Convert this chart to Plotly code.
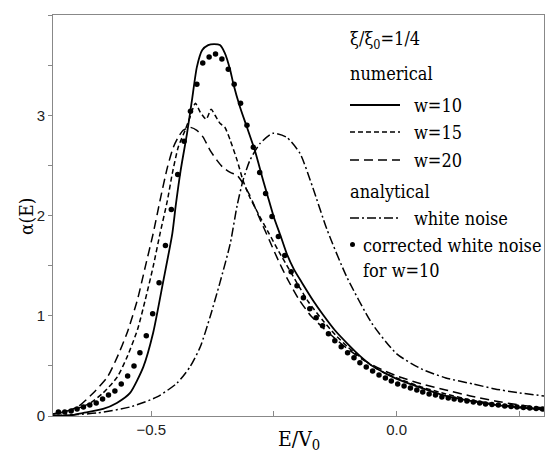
import plotly.graph_objects as go

# ---------------- data ----------------
w10_E = [-0.70, -0.66, -0.638, -0.598, -0.57, -0.543, -0.516, -0.496, -0.476, -0.457, -0.45, -0.44,
         -0.427, -0.417, -0.407, -0.396, -0.384, -0.372, -0.36, -0.35, -0.339, -0.333, -0.319, -0.305,
         -0.289, -0.272, -0.262, -0.25, -0.236, -0.224, -0.209, -0.193, -0.17, -0.15, -0.125, -0.1,
         -0.075, -0.05, -0.025, 0.0, 0.05, 0.1, 0.15, 0.2, 0.25, 0.3]
w10_a = [0.0, 0.01, 0.03, 0.07, 0.13, 0.23, 0.49, 0.83, 1.33, 1.82, 2.1, 2.45,
         2.82, 3.15, 3.48, 3.65, 3.70, 3.71, 3.70, 3.62, 3.45, 3.32, 3.08, 2.88,
         2.65, 2.35, 2.18, 1.98, 1.79, 1.62, 1.46, 1.33, 1.15, 1.01, 0.85, 0.72,
         0.60, 0.50, 0.43, 0.37, 0.28, 0.20, 0.15, 0.11, 0.085, 0.065]

w15_E = [-0.70, -0.691, -0.659, -0.624, -0.598, -0.569, -0.549, -0.528, -0.512, -0.496, -0.482,
         -0.467, -0.457, -0.445, -0.431, -0.421, -0.41, -0.40, -0.388, -0.378, -0.37, -0.36, -0.35,
         -0.339, -0.325, -0.313, -0.299, -0.28, -0.26, -0.24, -0.22, -0.207, -0.18, -0.15, -0.125,
         -0.1, -0.075, -0.05, -0.025, 0.0, 0.05, 0.1, 0.15, 0.2, 0.25, 0.3]
w15_a = [0.02, 0.03, 0.06, 0.13, 0.23, 0.39, 0.59, 0.86, 1.16, 1.49, 1.82,
         2.15, 2.42, 2.68, 2.85, 2.98, 3.12, 3.03, 2.96, 3.06, 3.0, 2.92, 2.88,
         2.75, 2.55, 2.35, 2.18, 2.0, 1.82, 1.64, 1.47, 1.36, 1.14, 0.95, 0.81,
         0.69, 0.59, 0.50, 0.43, 0.38, 0.29, 0.22, 0.16, 0.12, 0.09, 0.07]

w20_E = [-0.70, -0.685, -0.65, -0.618, -0.589, -0.569, -0.549, -0.528, -0.512, -0.496, -0.482,
         -0.467, -0.455, -0.445, -0.435, -0.421, -0.407, -0.394, -0.38, -0.366, -0.354, -0.339,
         -0.325, -0.313, -0.299, -0.28, -0.26, -0.24, -0.224, -0.2, -0.175, -0.15, -0.125, -0.1,
         -0.075, -0.05, -0.025, 0.0, 0.05, 0.1, 0.15, 0.2, 0.25, 0.3]
w20_a = [0.02, 0.03, 0.09, 0.23, 0.39, 0.59, 0.83, 1.16, 1.49, 1.82, 2.15,
         2.48, 2.68, 2.78, 2.85, 2.88, 2.85, 2.78, 2.65, 2.55, 2.48, 2.43,
         2.40, 2.32, 2.2, 1.98, 1.76, 1.54, 1.38, 1.17, 1.0, 0.88, 0.77, 0.67,
         0.58, 0.51, 0.45, 0.40, 0.32, 0.26, 0.20, 0.15, 0.11, 0.08]

white_E = [-0.70, -0.65, -0.61, -0.543, -0.488, -0.447, -0.421, -0.40, -0.38, -0.36, -0.339,
           -0.325, -0.313, -0.299, -0.278, -0.252, -0.224, -0.197, -0.171, -0.142, -0.102,
           -0.05, 0.0, 0.05, 0.1, 0.155, 0.2, 0.25, 0.3]
white_a = [0.005, 0.015, 0.03, 0.09, 0.19, 0.33, 0.49, 0.69, 0.99, 1.33, 1.72,
           2.1, 2.35, 2.55, 2.72, 2.82, 2.78, 2.62, 2.28, 1.86, 1.39,
           0.92, 0.62, 0.47, 0.38, 0.32, 0.27, 0.23, 0.20]

corr_E = [-0.689, -0.676, -0.663, -0.651, -0.638, -0.625, -0.612, -0.599, -0.587, -0.574,
          -0.561, -0.548, -0.535, -0.523, -0.510, -0.497, -0.484, -0.471, -0.459, -0.446,
          -0.433, -0.420, -0.407, -0.395, -0.382, -0.369, -0.356, -0.343, -0.331, -0.318,
          -0.305, -0.292, -0.279, -0.267, -0.254, -0.241, -0.228, -0.215, -0.203, -0.190,
          -0.177, -0.164, -0.151, -0.139, -0.126, -0.113, -0.100, -0.087, -0.075, -0.062,
          -0.049, -0.036, -0.023, -0.011, 0.002, 0.015, 0.028, 0.041, 0.053, 0.066,
          0.079, 0.092, 0.105, 0.117, 0.130, 0.143, 0.156, 0.169, 0.181, 0.194,
          0.207, 0.220, 0.233, 0.245, 0.258, 0.271, 0.284, 0.297]
corr_a = [0.04, 0.04, 0.05, 0.07, 0.09, 0.11, 0.13, 0.17, 0.21, 0.25,
          0.32, 0.40, 0.50, 0.63, 0.80, 1.02, 1.33, 1.70, 2.06, 2.41,
          2.74, 3.04, 3.31, 3.52, 3.58, 3.61, 3.56, 3.46, 3.31, 3.12,
          2.90, 2.68, 2.43, 2.22, 1.99, 1.79, 1.60, 1.44, 1.30, 1.18,
          1.07, 0.98, 0.90, 0.82, 0.75, 0.69, 0.63, 0.58, 0.53, 0.49,
          0.45, 0.41, 0.38, 0.35, 0.32, 0.30, 0.28, 0.26, 0.24, 0.22,
          0.21, 0.19, 0.18, 0.17, 0.16, 0.15, 0.14, 0.13, 0.12, 0.115,
          0.11, 0.10, 0.095, 0.09, 0.085, 0.08, 0.075, 0.07]

x_tickvals = [-0.5, -0.25, 0.0, 0.25]
x_ticktext = ["\u22120.5", "", "0.0", ""]
y_tickvals = [0, 0.5, 1, 1.5, 2, 2.5, 3, 3.5, 4]
y_ticktext = ["0", "", "1", "", "2", "", "3", "", "4"]

# ---------------- styles ----------------
DASH_W15 = "5px,3px"
DASH_W20 = "9px,5px"
DASH_WHITE = "9px,3px,2px,3px"
SERIF = "DejaVu Serif Condensed, DejaVu Serif"
SANS = "Liberation Sans"

# page offset: the html body has an 8px margin, so the figure starts at (8, 8)
OFF = 8
PL, PR, PT, PB = 53, 544, 15, 416   # plot area in window pixels
W, H = 554, 457

fig = go.Figure()
fig.add_trace(go.Scatter(x=w10_E, y=w10_a, mode="lines", line=dict(color="black", width=1.8, shape="spline", smoothing=0.6)))
fig.add_trace(go.Scatter(x=w15_E, y=w15_a, mode="lines", line=dict(color="black", width=1.5, dash=DASH_W15, shape="spline", smoothing=0.6)))
fig.add_trace(go.Scatter(x=w20_E, y=w20_a, mode="lines", line=dict(color="black", width=1.5, dash=DASH_W20, shape="spline", smoothing=0.6)))
fig.add_trace(go.Scatter(x=white_E, y=white_a, mode="lines", line=dict(color="black", width=1.5, dash=DASH_WHITE, shape="spline", smoothing=0.6)))
fig.add_trace(go.Scatter(x=corr_E, y=corr_a, mode="markers", marker=dict(color="black", size=5.5)))

# ---------------- legend drawn as annotations / shapes ----------------
L0, L1 = 350, 400      # window pixel x of legend line samples
TX = 412               # window pixel x of legend texts

def px2paper_x(px):
    return (px - PL) / float(PR - PL)

def px2paper_y(py):
    return (PB - py) / float(PB - PT)

shapes = []
for py, dash, wd in [(105, "solid", 1.8), (132, DASH_W15, 1.5), (160, DASH_W20, 1.5), (218, DASH_WHITE, 1.5)]:
    shapes.append(dict(type="line", xref="paper", yref="paper",
                       x0=px2paper_x(L0), x1=px2paper_x(L1), y0=px2paper_y(py), y1=px2paper_y(py),
                       line=dict(color="black", width=wd, dash=dash)))
shapes.append(dict(type="circle", xref="paper", yref="paper",
                   x0=px2paper_x(350), x1=px2paper_x(355), y0=px2paper_y(247), y1=px2paper_y(242),
                   fillcolor="black", line=dict(color="black", width=0)))

annotations = []
def txt(px, py, s, size=18):
    annotations.append(dict(xref="paper", yref="paper", x=px2paper_x(px), y=px2paper_y(py),
                            text=s, showarrow=False, xanchor="left", yanchor="middle",
                            font=dict(family=SERIF, size=size, color="black")))

txt(348, 40, "\u03be/\u03be<sub>0</sub>=1/4")
txt(348, 73, "numerical")
txt(TX, 105, "w=10")
txt(TX, 132, "w=15")
txt(TX, 160, "w=20")
txt(348, 191, "analytical")
txt(TX, 218, "white noise")
txt(361, 245, "corrected white noise")
txt(361, 270, "for w=10")

# axis titles as annotations (exact placement)
annotations.append(dict(xref="paper", yref="paper", x=px2paper_x(299), y=px2paper_y(440),
                        text="E/V<sub>0</sub>", showarrow=False, xanchor="center", yanchor="middle",
                        font=dict(family=SERIF, size=21, color="black")))
annotations.append(dict(xref="paper", yref="paper", x=px2paper_x(26), y=px2paper_y(217),
                        text="\u03b1(E)", showarrow=False, xanchor="center", yanchor="middle", textangle=-90,
                        font=dict(family=SERIF, size=19, color="black")))

fig.update_layout(
    width=W, height=H,
    margin=dict(l=PL - OFF, r=W - (PR - OFF), t=PT - OFF, b=H - (PB - OFF)),
    paper_bgcolor="white", plot_bgcolor="white",
    showlegend=False,
    shapes=shapes, annotations=annotations,
    xaxis=dict(range=[-0.7, 0.3], tickvals=x_tickvals, ticktext=x_ticktext, automargin=False,
               ticks="inside", ticklen=5, tickcolor="#888", showline=True, linecolor="#888",
               linewidth=1, mirror=True, showgrid=False, zeroline=False,
               tickfont=dict(family=SANS, size=15, color="#222")),
    yaxis=dict(range=[0, 4], tickvals=y_tickvals, ticktext=y_ticktext, automargin=False,
               ticks="outside", ticklen=4, tickcolor="#888", showline=True, linecolor="#888",
               linewidth=1, mirror=True, showgrid=False, zeroline=False,
               tickfont=dict(family=SANS, size=15, color="#222")),
)

fig.write_html("out.html")
